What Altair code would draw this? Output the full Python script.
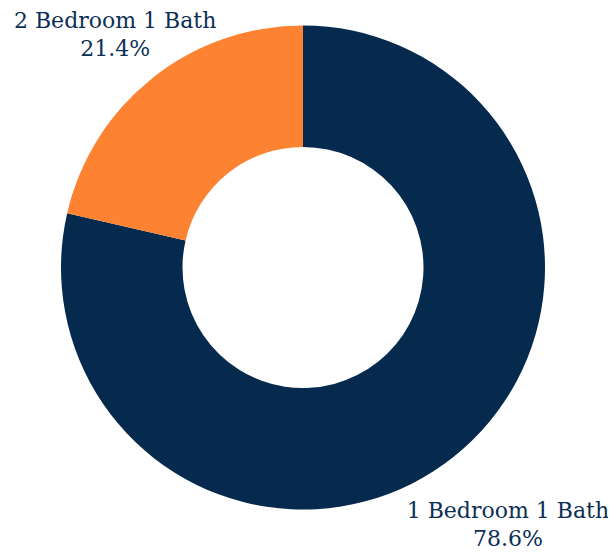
import altair as alt
import pandas as pd

categories = ["1 Bedroom 1 Bath", "2 Bedroom 1 Bath"]
shares = [78.6, 21.4]
colors = ["#052a4d", "#fd8232"]

df = pd.DataFrame({
    "category": categories,
    "share": shares,
    "rank": list(range(len(categories))),
})
df["label"] = df["category"] + "\n" + df["share"].map(lambda v: f"{v:.1f}%")

arcs = alt.Chart(df).mark_arc(outerRadius=242, innerRadius=120.5).encode(
    theta=alt.Theta("share:Q", stack=True),
    order=alt.Order("rank:Q", sort="ascending"),
    color=alt.Color("category:N", scale=alt.Scale(domain=categories, range=colors), legend=None),
)

text_base = alt.Chart(df).transform_window(
    cum="sum(share)", sort=[alt.SortField("rank", order="ascending")]
).transform_joinaggregate(
    total="sum(share)"
).transform_calculate(
    mid="(datum.cum - datum.share / 2) / datum.total"
).encode(
    theta=alt.Theta("mid:Q", scale=alt.Scale(domain=[0, 1], range=[0, 6.283185307])),
    text="label:N",
)

text_style = dict(font="DejaVu Serif", fontSize=22, color="#0b2f55",
                  lineBreak="\n", lineHeight=28, align="center", baseline="middle")

lab1 = text_base.transform_filter(alt.datum.rank == 0).mark_text(radius=329, dy=-14, **text_style)
lab2 = text_base.transform_filter(alt.datum.rank == 1).mark_text(radius=300, dy=-12, dx=-1, **text_style)

chart = alt.layer(arcs, lab1, lab2).resolve_scale(theta="independent").properties(
    width=590, height=519,
    autosize=alt.AutoSizeParams(type="none"),
    padding={"left": 0, "top": 0, "right": 10, "bottom": 30},
).configure_view(stroke=None)

chart.save("out.html", embed_options={"renderer": "svg", "actions": False})
